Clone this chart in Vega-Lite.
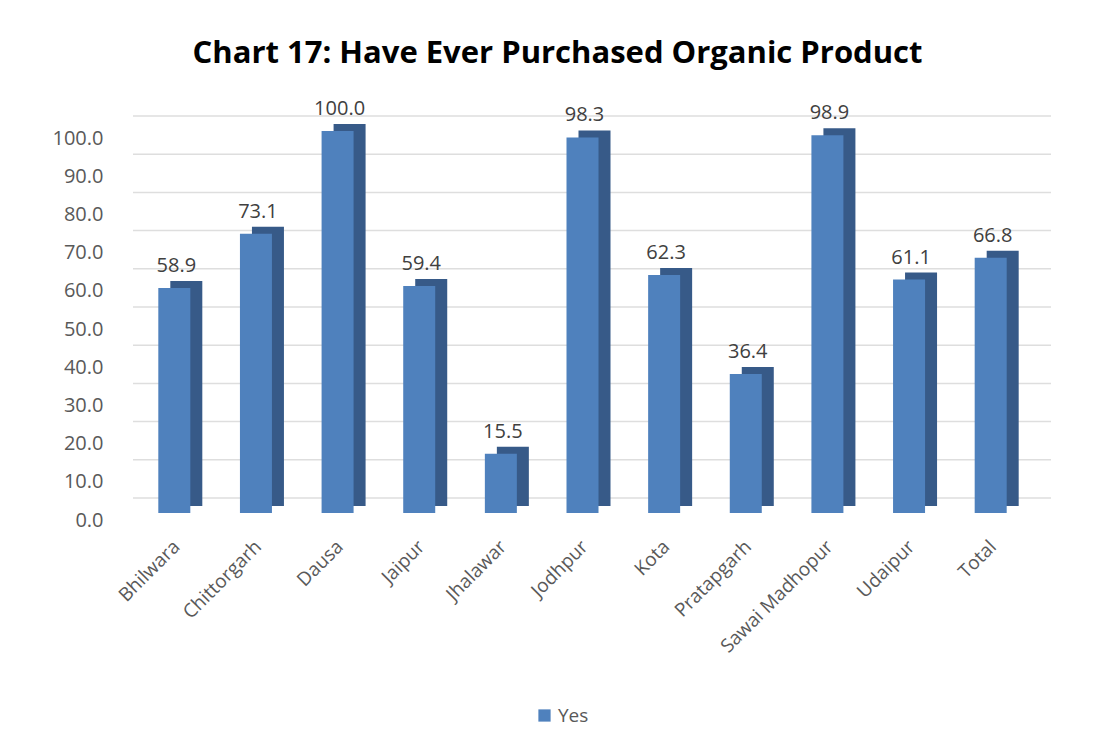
{
  "$schema": "https://vega.github.io/schema/vega-lite/v6.json",
  "width": 899,
  "height": 382,
  "autosize": {"type": "none"},
  "padding": {"left": 133, "top": 131, "right": 65, "bottom": 236},
  "background": "white",
  "config": {
    "view": {"stroke": null},
    "font": "Open Sans",
    "axis": {"grid": false, "domain": false, "ticks": false},
    "axisY": {
      "values": [0, 10, 20, 30, 40, 50, 60, 70, 80, 90, 100],
      "format": ".1f",
      "labelOverlap": false,
      "labelPadding": 30,
      "labelFontSize": 20,
      "labelColor": "#595959",
      "labelOffset": 7
    }
  },
  "title": {
    "text": "Chart 17: Have Ever Purchased Organic Product",
    "font": "Open Sans",
    "fontSize": 31,
    "fontWeight": "bold",
    "color": "#000000",
    "anchor": "middle",
    "dx": -25,
    "offset": 29
  },
  "datasets": {
    "bars": [
      {"district": "Bhilwara", "value": 58.9, "series": "Yes"},
      {"district": "Chittorgarh", "value": 73.1, "series": "Yes"},
      {"district": "Dausa", "value": 100.0, "series": "Yes"},
      {"district": "Jaipur", "value": 59.4, "series": "Yes"},
      {"district": "Jhalawar", "value": 15.5, "series": "Yes"},
      {"district": "Jodhpur", "value": 98.3, "series": "Yes"},
      {"district": "Kota", "value": 62.3, "series": "Yes"},
      {"district": "Pratapgarh", "value": 36.4, "series": "Yes"},
      {"district": "Sawai Madhopur", "value": 98.9, "series": "Yes"},
      {"district": "Udaipur", "value": 61.1, "series": "Yes"},
      {"district": "Total", "value": 66.8, "series": "Yes"}
    ],
    "grid": [
      {"v": 0}, {"v": 10}, {"v": 20}, {"v": 30}, {"v": 40}, {"v": 50},
      {"v": 60}, {"v": 70}, {"v": 80}, {"v": 90}, {"v": 100}
    ]
  },
  "layer": [
    {
      "data": {"name": "grid"},
      "mark": {"type": "rule", "color": "#dedede", "strokeWidth": 1.5, "xOffset": 19, "yOffset": -15},
      "encoding": {
        "y": {
          "field": "v",
          "type": "quantitative",
          "scale": {"domain": [0, 100], "nice": false},
          "title": null
        }
      }
    },
    {
      "data": {"name": "bars"},
      "mark": {"type": "bar", "color": "#375a88", "xOffset": 12, "yOffset": -7},
      "encoding": {
        "x": {
          "field": "district",
          "type": "nominal",
          "sort": null,
          "scale": {"paddingInner": 0.608, "paddingOuter": 0.31},
          "axis": {
            "title": null,
            "labelAngle": -45,
            "labelFontSize": 19,
            "labelColor": "#595959",
            "labelPadding": 24,
            "labelOffset": -4,
            "labelOverlap": false
          }
        },
        "y": {"field": "value", "type": "quantitative", "title": null}
      }
    },
    {
      "data": {"name": "bars"},
      "mark": {"type": "bar"},
      "encoding": {
        "x": {"field": "district", "type": "nominal", "sort": null},
        "y": {"field": "value", "type": "quantitative", "title": null},
        "color": {
          "field": "series",
          "type": "nominal",
          "scale": {"range": ["#4f81bd"]},
          "legend": {
            "orient": "none",
            "legendX": 402,
            "legendY": 575,
            "title": null,
            "symbolType": "square",
            "symbolSize": 150,
            "symbolStrokeWidth": 0,
            "labelFontSize": 19,
            "labelColor": "#595959"
          }
        }
      }
    },
    {
      "data": {"name": "bars"},
      "mark": {"type": "text", "baseline": "bottom", "dy": -12, "dx": 2, "fontSize": 20, "color": "#404040"},
      "encoding": {
        "x": {"field": "district", "type": "nominal", "sort": null},
        "y": {"field": "value", "type": "quantitative", "title": null},
        "text": {"field": "value", "type": "quantitative", "format": ".1f"}
      }
    }
  ]
}
